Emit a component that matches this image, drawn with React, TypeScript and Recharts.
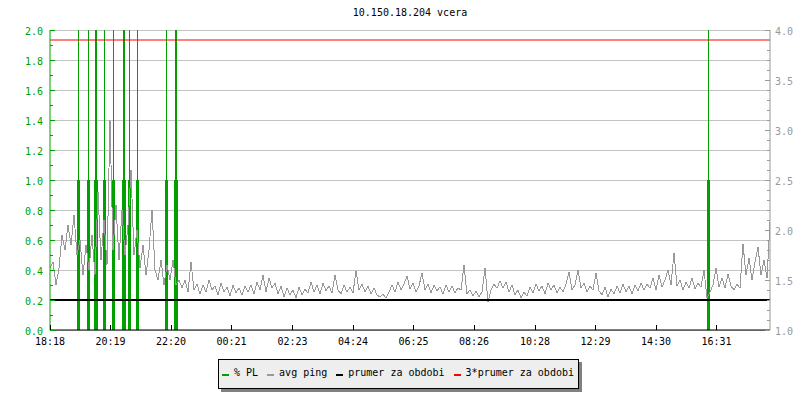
import { ComposedChart, Bar, Line, XAxis, YAxis, CartesianGrid, ReferenceLine } from "recharts";

// colours taken from the rrdtool-style original
const GREEN = "#00a000";
const PING_GRAY = "#999999";
const GRID = "#c4c4c4";
const MONO = "'DejaVu Sans Mono', monospace";

const TITLE = "10.150.18.204 vcera";

// x axis: minutes since 18:18
const xTickMinutes = [0, 121, 242, 363, 485, 606, 727, 848, 970, 1091, 1212, 1333];
const xTickLabels = ["18:18", "20:19", "22:20", "00:21", "02:23", "04:24", "06:25", "08:26", "10:28", "12:29", "14:30", "16:31"];
const X_END = 1440;

const leftMajorTicks = [0, 0.2, 0.4, 0.6, 0.8, 1.0, 1.2, 1.4, 1.6, 1.8, 2.0];
const rightMajorTicks = [1.0, 1.5, 2.0, 2.5, 3.0, 3.5, 4.0];
const leftMinorTicks = Array.from({ length: 21 }, (_, i) => i / 10);
const rightMinorTicks = Array.from({ length: 31 }, (_, i) => (10 + i) / 10);

// avg ping (ms, right axis), one sample every 6 minutes
const SAMPLE_STEP = 6;
const pingMs = [
  1.62, 1.68, 1.45, 1.62, 1.95, 1.80, 2.05, 1.85, 2.15, 1.75, 1.90, 1.55, 1.85, 1.60, 1.95, 1.55,
  2.38, 1.70, 2.10, 1.65, 3.10, 1.80, 2.25, 1.70, 2.20, 1.75, 2.05, 2.60, 1.75, 2.00, 1.62, 1.85,
  1.55, 1.80, 2.20, 1.60, 1.50, 1.70, 1.45, 1.65, 1.50, 1.70, 1.45, 1.50,
  1.42, 1.50, 1.38, 1.68, 1.40, 1.46, 1.36, 1.45, 1.38, 1.50, 1.40, 1.44, 1.35, 1.47, 1.38, 1.43,
  1.34, 1.45, 1.37, 1.42, 1.35, 1.44, 1.38,
  1.45, 1.36, 1.48, 1.40, 1.55, 1.38, 1.52, 1.42, 1.47, 1.36, 1.44,
  1.33, 1.42, 1.35, 1.40, 1.32, 1.43, 1.35, 1.41,
  1.37, 1.48, 1.38, 1.45, 1.36, 1.47, 1.39, 1.44, 1.37, 1.55, 1.40,
  1.36, 1.45, 1.38, 1.43, 1.37, 1.59, 1.40,
  1.46, 1.38, 1.44, 1.36, 1.42, 1.35,
  1.33, 1.36, 1.32, 1.38,
  1.45, 1.38, 1.48, 1.40, 1.46, 1.54, 1.41, 1.47, 1.38,
  1.44, 1.57, 1.40, 1.46, 1.37, 1.45, 1.39,
  1.43, 1.36, 1.45, 1.38, 1.44, 1.37, 1.42,
  1.40, 1.65, 1.36, 1.40, 1.34, 1.39, 1.33, 1.38,
  1.62, 1.28, 1.40, 1.46, 1.42, 1.49,
  1.42, 1.48, 1.38, 1.45,
  1.35, 1.40, 1.32, 1.38, 1.34,
  1.43, 1.37, 1.46, 1.39, 1.44, 1.36, 1.47, 1.40, 1.45, 1.37, 1.43, 1.38, 1.46,
  1.58, 1.40, 1.45, 1.60, 1.42,
  1.47, 1.38, 1.44, 1.40, 1.57, 1.39,
  1.35, 1.43, 1.33, 1.41, 1.36, 1.44,
  1.37, 1.46, 1.38, 1.44, 1.36, 1.45, 1.39, 1.47, 1.40,
  1.46, 1.42, 1.52, 1.40, 1.55, 1.43, 1.50, 1.60, 1.45, 1.77,
  1.44, 1.50, 1.40, 1.48, 1.42, 1.52, 1.41, 1.47, 1.43, 1.60,
  1.32, 1.38, 1.45, 1.62, 1.43, 1.52, 1.42, 1.56, 1.44, 1.40, 1.46, 1.42,
  1.86, 1.55, 1.72, 1.50, 1.68, 1.83, 1.55, 1.70, 1.52, 2.08,
];

// packet loss events (left axis)
const plMinutes = [58, 77, 91, 93, 110, 127, 147, 149, 159, 176, 233, 251, 253, 1317];
const plFloor = [1, 1, 1, 1, 1, 1, 1, 1, 1, 1, 1, 1, 1, 1];
const plPeak = [2, 2, 2, 2, 2, 2, 2, 2, 2, 2, 2, 2, 2, 2];

const AVG_PING = 1.3;
const TRIPLE_AVG_PING = 3.9;

type Row = { t: number; ping?: number; plFloor?: number; plRest?: number };

const rows: Row[] = [
  ...pingMs.map((v, i) => ({ t: i * SAMPLE_STEP, ping: v })),
  ...plMinutes.map((t, i) => ({ t, plFloor: plFloor[i], plRest: plPeak[i] - plFloor[i] })),
].sort((a, b) => a.t - b.t);

const LEFT_MARGIN = 7;
const RIGHT_MARGIN = 5;
const X_MARGIN = 6;

const near = (list: number[], v: number) => list.some((m) => Math.abs(m - v) < 1e-6);

function LeftTick(props: any) {
  const { x, y, payload } = props;
  const axisX = x + LEFT_MARGIN;
  const major = near(leftMajorTicks, payload.value);
  return (
    <g>
      <line x1={axisX} x2={axisX + (major ? 5 : 3)} y1={y} y2={y} stroke={GREEN} shapeRendering="crispEdges" />
      {major && (
        <text x={x} y={y} dy={5} textAnchor="end" fill={GREEN} fontSize={10} fontFamily={MONO}>
          {payload.value.toFixed(1)}
        </text>
      )}
    </g>
  );
}

function RightTick(props: any) {
  const { x, y, payload } = props;
  const axisX = x - RIGHT_MARGIN;
  const major = near(rightMajorTicks, payload.value);
  return (
    <g>
      <line x1={axisX} x2={axisX - (major ? 5 : 3)} y1={y} y2={y} stroke={PING_GRAY} shapeRendering="crispEdges" />
      {major && (
        <text x={x} y={y} dy={5} textAnchor="start" fill={PING_GRAY} fontSize={10} fontFamily={MONO}>
          {payload.value.toFixed(1)}
        </text>
      )}
    </g>
  );
}

function TimeTick(props: any) {
  const { x, y, payload, index } = props;
  const axisY = y - X_MARGIN;
  return (
    <g>
      <line x1={x} x2={x} y1={axisY} y2={axisY - 5} stroke="#000" shapeRendering="crispEdges" />
      <text x={x} y={axisY} dy={15} textAnchor="middle" fill="#000" fontSize={10} fontFamily={MONO}>
        {xTickLabels[index] ?? payload.value}
      </text>
    </g>
  );
}

function PlFloorShape(p: any) {
  if (!p.height || p.height <= 0) return null;
  const cx = p.x + p.width / 2;
  return <rect x={Math.round(cx - 1.5)} y={p.y} width={3} height={p.height} fill={GREEN} shapeRendering="crispEdges" />;
}

function PlRestShape(p: any) {
  if (!p.height || p.height <= 0) return null;
  const cx = p.x + p.width / 2;
  return <rect x={Math.round(cx - 0.5)} y={p.y} width={1} height={p.height} fill={GREEN} shapeRendering="crispEdges" />;
}

const legendItems = [
  { label: "% PL", color: GREEN },
  { label: "avg ping", color: PING_GRAY },
  { label: "prumer za obdobi", color: "#000" },
  { label: "3*prumer za obdobi", color: "#ff0000" },
];

export default function App() {
  return (
    <div style={{ position: "absolute", left: 0, top: 0, width: 800, height: 400, background: "#fff", fontFamily: MONO }}>
      <div style={{ position: "absolute", left: 50, top: 8, width: 720, textAlign: "center", fontSize: 10, lineHeight: "10px" }}>
        {TITLE}
      </div>
      <ComposedChart width={800} height={400} data={rows} margin={{ top: 30, right: 0, bottom: 50, left: 0 }}>
        <CartesianGrid yAxisId="left" horizontalValues={leftMajorTicks} vertical={false} stroke={GRID} shapeRendering="crispEdges" />
        <XAxis
          dataKey="t"
          type="number"
          domain={[0, X_END]}
          ticks={xTickMinutes}
          interval={0}
          height={20}
          tickLine={false}
          tickSize={0}
          tickMargin={X_MARGIN}
          axisLine={{ stroke: "#000" }}
          tick={TimeTick}
        />
        <YAxis
          yAxisId="left"
          domain={[0, 2]}
          ticks={leftMinorTicks}
          interval={0}
          width={50}
          tickLine={false}
          tickSize={0}
          tickMargin={LEFT_MARGIN}
          axisLine={{ stroke: GREEN }}
          tick={LeftTick}
        />
        <YAxis
          yAxisId="right"
          orientation="right"
          domain={[1, 4]}
          ticks={rightMinorTicks}
          interval={0}
          width={30}
          tickLine={false}
          tickSize={0}
          tickMargin={RIGHT_MARGIN}
          axisLine={{ stroke: PING_GRAY }}
          tick={RightTick}
        />
        <Bar yAxisId="left" dataKey="plFloor" stackId="pl" barSize={3} fill={GREEN} shape={PlFloorShape} isAnimationActive={false} />
        <Bar yAxisId="left" dataKey="plRest" stackId="pl" barSize={3} fill={GREEN} shape={PlRestShape} isAnimationActive={false} />
        <Line
          yAxisId="right"
          type="linear"
          dataKey="ping"
          stroke={PING_GRAY}
          strokeWidth={1}
          shapeRendering="crispEdges"
          dot={false}
          activeDot={false}
          connectNulls
          isAnimationActive={false}
        />
        <ReferenceLine yAxisId="right" y={AVG_PING} stroke="#000" strokeWidth={2} />
        <ReferenceLine yAxisId="right" y={TRIPLE_AVG_PING} stroke="#ff0000" strokeWidth={1} />
      </ComposedChart>
      <div
        style={{
          position: "absolute",
          left: 218,
          top: 359,
          height: 26,
          border: "1px solid #000",
          background: "#eeeeee",
          boxShadow: "3px 3px 0 #808080",
          display: "flex",
          alignItems: "center",
          paddingLeft: 3,
          paddingRight: 4,
          paddingBottom: 2,
          boxSizing: "content-box",
          fontSize: 10,
          lineHeight: "10px",
        }}
      >
        {legendItems.map((it) => (
          <span key={it.label} style={{ display: "flex", alignItems: "center", flexShrink: 0, marginRight: it.label.startsWith("3*") ? 0 : 9 }}>
            <span style={{ display: "inline-block", flexShrink: 0, width: 7, height: 2, background: it.color, marginRight: 5, marginTop: 3 }} />
            <span style={{ whiteSpace: "pre" }}>{it.label}</span>
          </span>
        ))}
      </div>
    </div>
  );
}
